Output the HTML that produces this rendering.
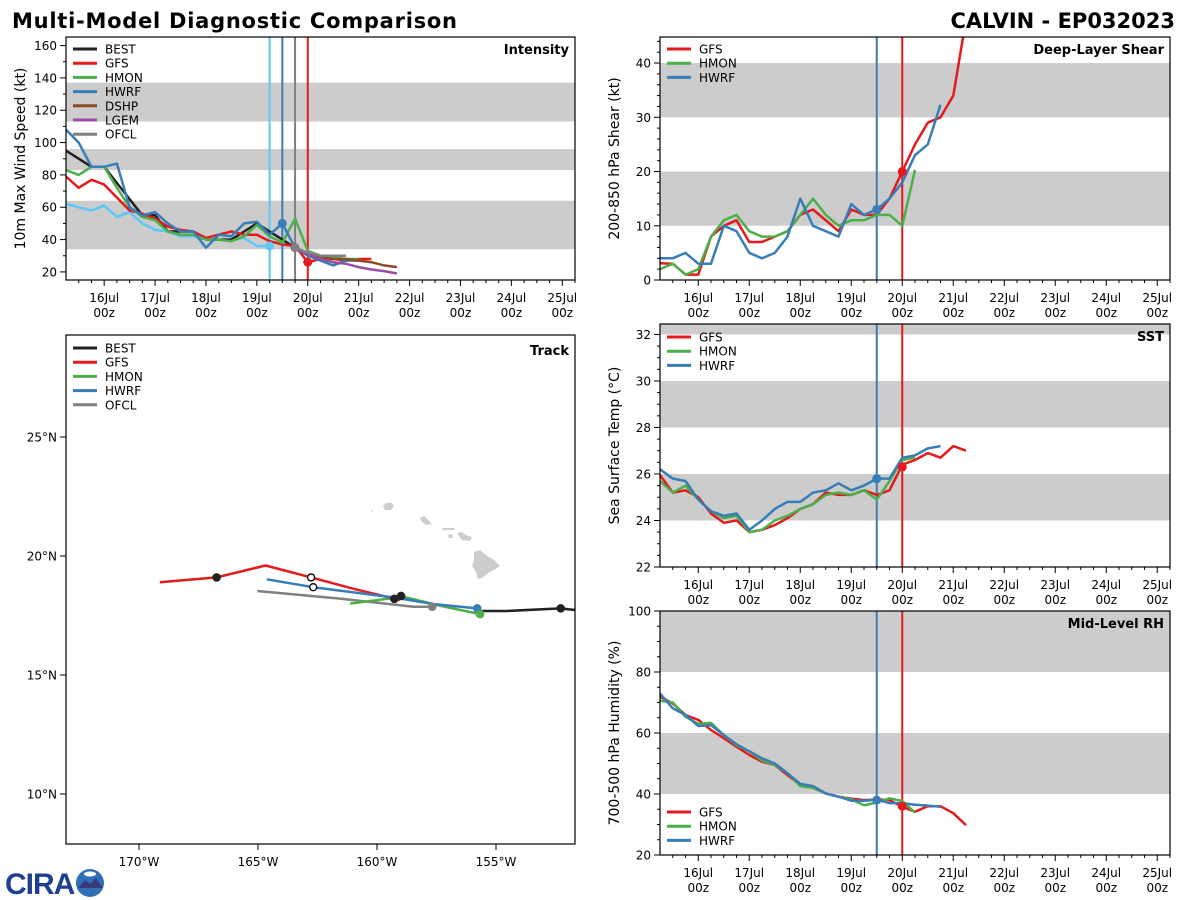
<!DOCTYPE html>
<html><head><meta charset="utf-8"><title>Multi-Model Diagnostic Comparison</title>
<style>
html,body{margin:0;padding:0;background:#fff;}
svg{display:block;font-family:"DejaVu Sans","Liberation Sans",sans-serif;}
</style></head>
<body>
<svg id="fig" width="1200" height="900" viewBox="0 0 1200 900" xmlns="http://www.w3.org/2000/svg">
<text x="12" y="28" font-size="21" font-weight="bold" fill="#000" textLength="445">Multi-Model Diagnostic Comparison</text>
<text x="1175" y="28" font-size="21" font-weight="bold" fill="#000" text-anchor="end">CALVIN - EP032023</text>
<g>
<text x="5" y="894" font-size="30" font-weight="bold" fill="#1f3f8f" font-family="Liberation Sans, sans-serif" letter-spacing="-1">CIRA</text>
<circle cx="90" cy="883" r="14" fill="#2f6fb8"/>
<path d="M78 888 L85 880 L90 884 L96 878 L103 888 Z" fill="#3a3a7a"/>
<ellipse cx="90" cy="874" rx="6" ry="2.5" fill="#fff"/>
</g>
</svg>
<script>
// ---------------- data ----------------
const intStart = -18;
const intBEST = [95,90,85,85,75,65,55,55,45,45,45,40,40,40,45,50,45,40,35];
const intGFS  = [79,72,77,74,66,58,56,53,48,46,45,41,43,45,43,43,39,37,36,26,28,28,27,28,28];
const intHMON = [83,80,85,85,72,60,54,52,45,43,43,40,40,39,42,49,42,38,53,33,30,29,28,28];
const intHWRF = [108,100,85,85,87,60,55,57,50,45,45,35,43,42,50,51,43,50,35,30,27,24,27,27];
const intLTBL = [62,60,58,61,54,57,50,46,45,42,42,40,40,40,41,36,36];
const dshpStart = 90;
const intDSHP = [35,31,29,28,28,27,26,24,23];
const intLGEM = [35,31,28,26,25,23,21.5,20.5,19];
const intOFCL = [35,32,30,30,30];
const intDots = [[84,50,'#377eb8'],[78,36,'#5bc8f5'],[90,35,'#808080'],[96,26,'#e41a1c']];
const intVlines = [[78,'#5bc8f5'],[84,'#377eb8'],[90,'#808080'],[96,'#e41a1c']];

const shrGFS  = [3.1,3,1,1,8,10,11,7,7,8,9,12,13,11,9,13,12,12,15,20,25,29,30,34,48];
const shrHMON = [2,3,1,2,8,11,12,9,8,8,9,12,15,12,10,11,11,12,12,10,20.3];
const shrHWRF = [4,4,5,3,3,10,9,5,4,5,8,15,10,9,8,14,12,13,15,18,23,25,32.3];

const sstGFS  = [25.95,25.2,25.3,25.0,24.3,23.9,24.0,23.5,23.6,23.8,24.1,24.5,24.7,25.2,25.1,25.1,25.3,25.1,25.3,26.4,26.6,26.9,26.7,27.2,27.0];
const sstHMON = [25.7,25.2,25.5,24.9,24.4,24.1,24.2,23.5,23.6,24.0,24.2,24.5,24.7,25.1,25.2,25.1,25.3,24.9,25.7,26.6,26.7];
const sstHWRF = [26.2,25.8,25.7,24.9,24.4,24.2,24.3,23.6,24.0,24.5,24.8,24.8,25.2,25.3,25.6,25.3,25.5,25.8,25.8,26.7,26.8,27.1,27.2];

const rhGFS  = [71.9,69.7,65.9,64.3,61,58.3,55.5,52.8,50.6,49.5,46.2,43,42,40.2,39.1,38.5,38,38.2,38,35.8,34.2,36,36,33.7,29.8];
const rhHMON = [70.6,70,65.3,63,63.3,59.3,56,54,51,49.5,46.8,42.6,42,40.2,39.1,38.3,36.3,37.2,38.6,37.7,33.9];
const rhHWRF = [73,68.1,65.9,62.3,62.6,59.3,56.3,54,51.7,50,46.8,43.3,42.6,40.2,39.1,37.8,37.8,38.1,37,37,36.5,36.2,35.8];

const dayLabels = ['16Jul','17Jul','18Jul','19Jul','20Jul','21Jul','22Jul','23Jul','24Jul','25Jul'];

const trkGFS  = [[-169.12,18.9],[-166.74,19.1],[-164.68,19.6],[-162.77,19.1],[-160.9,18.6],[-159.03,18.15]];
const trkHWRF = [[-164.63,19.02],[-162.68,18.69],[-159.31,18.26],[-157.6,17.98],[-155.79,17.8]];
const trkHMON = [[-161.13,18.0],[-158.9,18.29],[-157.3,17.9],[-155.67,17.56]];
const trkOFCL = [[-165.03,18.53],[-161.5,18.2],[-158.47,17.87],[-157.68,17.87]];
const trkBEST = [[-155.88,17.69],[-154.55,17.69],[-152.28,17.8],[-151.68,17.73]];
const trkFilled = [[-166.74,19.1,'#222'],[-159.27,18.2,'#222'],[-158.99,18.32,'#222'],[-157.68,17.87,'#808080'],[-155.79,17.8,'#377eb8'],[-155.67,17.56,'#4daf4a'],[-152.28,17.8,'#222']];
const trkOpen = [[-162.77,19.1],[-162.68,18.69]];
const lonTicks = [-170,-165,-160,-155];
const latTicks = [25,20,15,10];

// ---------------- drawing ----------------
const NS='http://www.w3.org/2000/svg';
const svg=document.getElementById('fig');
function mk(tag,attrs,parent){const e=document.createElementNS(NS,tag);for(const k in attrs)e.setAttribute(k,attrs[k]);(parent||svg).appendChild(e);return e;}
const C={BEST:'#222222',GFS:'#e41a1c',HMON:'#4daf4a',HWRF:'#377eb8',DSHP:'#8c4b26',LGEM:'#984ea3',OFCL:'#808080',LTBL:'#5bc8f5'};
let clipN=0;

function timePanel(p){
  const g=mk('g',{});
  
  
  const sx=t=>p.x+(t+18)/240*p.w;
  const sy=v=>p.y+p.h-(v-p.ymin)/(p.ymax-p.ymin)*p.h;
  const cid='clip'+(clipN++);
  const cp=mk('clipPath',{id:cid},g);mk('rect',{x:p.x,y:p.y,width:p.w,height:p.h},cp);
  const plot=mk('g',{'clip-path':'url(#'+cid+')'},g);
  p.bands.forEach(b=>{
    const r=mk('rect',{x:p.x,y:sy(b[1]),width:p.w,height:sy(b[0])-sy(b[1]),fill:'#cccccc'},plot);
    
    
  });
  (p.vlines||[]).forEach(v=>{
    const l=mk('line',{x1:sx(v[0]),x2:sx(v[0]),y1:p.y,y2:p.y+p.h,stroke:v[1],'stroke-width':2},plot);
    
    
  });
  p.series.forEach(s=>{
    const pts=s.vals.map((v,i)=>sx(s.start+6*i).toFixed(1)+','+sy(v).toFixed(1)).join(' ');
    const pl=mk('polyline',{points:pts,fill:'none',stroke:s.color,'stroke-width':2.5,'stroke-linejoin':'round'},plot);
    
    
  });
  (p.dots||[]).forEach(d=>{
    const c=mk('circle',{cx:sx(d[0]),cy:sy(d[1]),r:4.5,fill:d[2]},plot);
    
    
  });
  mk('rect',{x:p.x,y:p.y,width:p.w,height:p.h,fill:'none',stroke:'#000','stroke-width':1.2},g);
  for(let t=-12;t<=222;t+=6){
    const major=(t%24===0);
    mk('line',{x1:sx(t),x2:sx(t),y1:p.y+p.h,y2:p.y+p.h+(major?6:3),stroke:'#000','stroke-width':1},g);
  }
  dayLabels.forEach((d,i)=>{
    const x=sx(24*i);
    const t1=mk('text',{x:x,y:p.y+p.h+22,'font-size':12,'text-anchor':'middle'},g);t1.textContent=d;
    
    
    const t2=mk('text',{x:x,y:p.y+p.h+37,'font-size':12,'text-anchor':'middle'},g);t2.textContent='00z';
  });
  const nStart=Math.ceil(p.ymin/p.minor-1e-6);
  for(let n=nStart;n*p.minor<=p.ymax+1e-6;n++){
    const vv=Math.round(n*p.minor*100)/100;
    const major=Math.abs(vv/p.major-Math.round(vv/p.major))<1e-6;
    mk('line',{x1:p.x,x2:p.x-(major?6:3),y1:sy(vv),y2:sy(vv),stroke:'#000','stroke-width':1},g);
    if(major){
      const t=mk('text',{x:p.x-9,y:sy(vv)+4.5,'font-size':12,'text-anchor':'end'},g);t.textContent=vv;
      
      
    }
  }
  const yl=mk('text',{x:0,y:0,'font-size':14,'text-anchor':'middle',transform:`translate(${p.x-41},${p.y+p.h/2}) rotate(-90)`},g);
  yl.textContent=p.ylabel;
  
  
  const pt=mk('text',{x:p.x+p.w-6,y:p.y+17,'font-size':13,'font-weight':'bold','text-anchor':'end'},g);
  pt.textContent=p.title;
  
  
  legend(g,p.x+7,p.legY,p.series.filter(s=>s.label!=='LTBL'));
}
function legend(g,x,y,items){
  items.forEach((s,i)=>{
    const le=mk('g',{},g);
    
    
    const yy=y+i*14.2;
    mk('line',{x1:x,x2:x+24,y1:yy,y2:yy,stroke:s.color,'stroke-width':3},le);
    const t=mk('text',{x:x+32,y:yy+4.5,'font-size':12},le);t.textContent=s.label;
  });
}

timePanel({name:'intensity',x:66,y:37,w:509,h:243,ymin:15,ymax:165.3,major:20,minor:10,
  bands:[[34,64],[83,96],[113,137]],vlines:intVlines,dots:intDots,legY:49,
  ylabel:'10m Max Wind Speed (kt)',title:'Intensity',
  series:[{label:'LTBL',color:C.LTBL,start:intStart,vals:intLTBL},
    {label:'BEST',color:C.BEST,start:intStart,vals:intBEST},
    {label:'GFS',color:C.GFS,start:intStart,vals:intGFS},
    {label:'HMON',color:C.HMON,start:intStart,vals:intHMON},
    {label:'HWRF',color:C.HWRF,start:intStart,vals:intHWRF},
    {label:'DSHP',color:C.DSHP,start:dshpStart,vals:intDSHP},
    {label:'LGEM',color:C.LGEM,start:dshpStart,vals:intLGEM},
    {label:'OFCL',color:C.OFCL,start:dshpStart,vals:intOFCL}]});
timePanel({name:'shear',x:660,y:37,w:510,h:243,ymin:0,ymax:44.8,major:10,minor:2,
  bands:[[10,20],[30,40]],vlines:[[84,C.HWRF],[96,C.GFS]],dots:[[96,20,C.GFS],[84,13,C.HWRF]],legY:49,
  ylabel:'200-850 hPa Shear (kt)',title:'Deep-Layer Shear',
  series:[{label:'GFS',color:C.GFS,start:-18,vals:shrGFS},{label:'HMON',color:C.HMON,start:-18,vals:shrHMON},{label:'HWRF',color:C.HWRF,start:-18,vals:shrHWRF}]});
timePanel({name:'sst',x:660,y:324,w:510,h:243,ymin:22,ymax:32.45,major:2,minor:0.5,
  bands:[[24,26],[28,30],[32,34]],vlines:[[84,C.HWRF],[96,C.GFS]],dots:[[96,26.3,C.GFS],[84,25.8,C.HWRF]],legY:337,
  ylabel:'Sea Surface Temp (°C)',title:'SST',
  series:[{label:'GFS',color:C.GFS,start:-18,vals:sstGFS},{label:'HMON',color:C.HMON,start:-18,vals:sstHMON},{label:'HWRF',color:C.HWRF,start:-18,vals:sstHWRF}]});
timePanel({name:'rh',x:660,y:611,w:510,h:244,ymin:20,ymax:100,major:20,minor:5,
  bands:[[40,60],[80,100]],vlines:[[84,C.HWRF],[96,C.GFS]],dots:[[96,36,C.GFS],[84,38,C.HWRF]],legY:812,
  ylabel:'700-500 hPa Humidity (%)',title:'Mid-Level RH',
  series:[{label:'GFS',color:C.GFS,start:-18,vals:rhGFS},{label:'HMON',color:C.HMON,start:-18,vals:rhHMON},{label:'HWRF',color:C.HWRF,start:-18,vals:rhHWRF}]});

(function(){
  const X0=66,Y0=335,W=509,H=509;
  const lx=lon=>139+(lon+170)*23.8;
  const ly=lat=>556-(lat-20)*23.8;
  const g=mk('g',{});
  
  
  const cp=mk('clipPath',{id:'trkclip'},g);mk('rect',{x:X0,y:Y0,width:W,height:H},cp);
  const plot=mk('g',{'clip-path':'url(#trkclip)'},g);
  const isl=mk('g',{fill:'#cccccc'},plot);
  
  
  ['M383 506 L386 503 L392 503 L394 506 L391 510 L385 510 Z',
   'M420 518 L424 516 L428 520 L432 524 L427 525 L422 522 Z',
   'M442 528 L455 528 L454 530 L443 530 Z',
   'M448 535 L452 534 L453 538 L449 538 Z',
   'M457 533 L462 532 L466 535 L472 537 L470 541 L462 540 L459 536 Z',
   'M474 552 L480 550 L486 555 L494 560 L500 566 L494 570 L488 573 L482 578 L478 579 L476 572 L472 566 L474 560 Z',
   'M371 511 L373 510 L373 512 Z'].forEach(d=>mk('path',{d:d},isl));
  const tracks=[['ofcl',trkOFCL,C.OFCL],['hmon',trkHMON,C.HMON],['gfs',trkGFS,C.GFS],['hwrf',trkHWRF,C.HWRF],['best',trkBEST,C.BEST]];
  tracks.forEach(t=>{
    const pl=mk('polyline',{points:t[1].map(p=>lx(p[0]).toFixed(1)+','+ly(p[1]).toFixed(1)).join(' '),fill:'none',stroke:t[2],'stroke-width':2.5,'stroke-linejoin':'round'},plot);
    
    
  });
  trkFilled.forEach(p=>{
    const c=mk('circle',{cx:lx(p[0]),cy:ly(p[1]),r:4.3,fill:p[2]},plot);
    
    
  });
  trkOpen.forEach(p=>{
    const c=mk('circle',{cx:lx(p[0]),cy:ly(p[1]),r:3.5,fill:'#fff',stroke:'#000','stroke-width':1.3},plot);
    
    
  });
  mk('rect',{x:X0,y:Y0,width:W,height:H,fill:'none',stroke:'#000','stroke-width':1.2},g);
  lonTicks.forEach(l=>{
    const x=lx(l);
    mk('line',{x1:x,x2:x,y1:Y0+H,y2:Y0+H+6,stroke:'#000'},g);
    const t=mk('text',{x:x,y:Y0+H+22,'font-size':12,'text-anchor':'middle'},g);t.textContent=(-l)+'°W';
    
    
  });
  latTicks.forEach(l=>{
    const y=ly(l);
    mk('line',{x1:X0,x2:X0-6,y1:y,y2:y,stroke:'#000'},g);
    const t=mk('text',{x:X0-9,y:y+4.5,'font-size':12,'text-anchor':'end'},g);t.textContent=l+'°N';
    
    
  });
  const pt=mk('text',{x:X0+W-6,y:Y0+20,'font-size':13,'font-weight':'bold','text-anchor':'end'},g);
  pt.textContent='Track';
  
  
  legend(g,X0+7,348,[{label:'BEST',color:C.BEST},{label:'GFS',color:C.GFS},{label:'HMON',color:C.HMON},{label:'HWRF',color:C.HWRF},{label:'OFCL',color:C.OFCL}]);
})();
</script>
</body></html>
